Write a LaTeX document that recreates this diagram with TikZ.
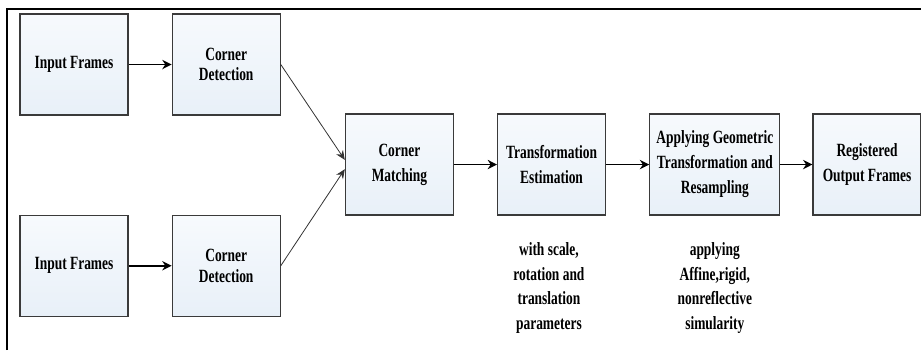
\documentclass[tikz,border=0pt]{standalone}
\usepackage{fontspec}
\setmainfont[FakeStretch=0.72]{Liberation Serif}
\usetikzlibrary{arrows.meta,positioning}
\definecolor{boxtop}{HTML}{F7FAFD}
\definecolor{boxbot}{HTML}{E8F0F8}
\definecolor{boxline}{HTML}{3A3A3A}
\begin{document}
\begin{tikzpicture}[box/.style={draw=boxline,line width=0.9pt,top color=boxtop,bottom color=boxbot,align=center,font=\bfseries\fontsize{14}{18.75}\selectfont,minimum width=81pt,minimum height=75.75pt,inner sep=2pt},note/.style={align=center,font=\bfseries\fontsize{14}{18.5}\selectfont,inner sep=0pt},arr/.style={-{Stealth[length=7pt,width=7pt]},line width=1.2pt},darr/.style={-{Stealth[length=7pt,width=6pt]},line width=0.6pt,draw=black!80}]
\useasboundingbox (0,0) rectangle (690.75pt,-262.5pt);
\draw[line width=2pt] (5.25pt,-262.5pt) -- (5.25pt,-6.75pt) -- (690.75pt,-6.75pt);
\node[box] (in1) at (55.5pt,-48.4pt) {Input Frames};
\node[box,right=32.25pt of in1,font=\bfseries\fontsize{14}{15.5}\selectfont] (cd1) {Corner\\Detection};
\node[box,below=74.25pt of in1] (in2) {Input Frames};
\node[box,right=32.25pt of in2,font=\bfseries\fontsize{14}{15.5}\selectfont] (cd2) {Corner\\Detection};
\node[box,right=48pt of cd1,yshift=-75pt] (cm) {Corner\\Matching};
\node[box,right=32.25pt of cm] (te) {Transformation\\Estimation};
\node[box,right=32.25pt of te,minimum width=97.5pt] (app) {Applying Geometric\\Transformation and\\Resampling};
\node[box,right=24pt of app] (reg) {Registered\\Output Frames};
\node[note,below=20pt of te,xshift=-2pt] (tenote) {with scale,\\rotation and\\translation\\parameters};
\node[note,below=20pt of app] (appnote) {applying\\Affine,rigid,\\nonreflective\\simularity};
\draw[arr] (in1)--(cd1);\draw[arr] (in2)--(cd2);
\draw[darr] (cd1.east)--([yshift=3.5pt]cm.west);
\draw[darr] (cd2.east)--([yshift=-3.5pt]cm.west);
\draw[arr] (cm)--(te);\draw[arr] (te)--(app);\draw[arr] (app)--(reg);
\end{tikzpicture}
\end{document}
